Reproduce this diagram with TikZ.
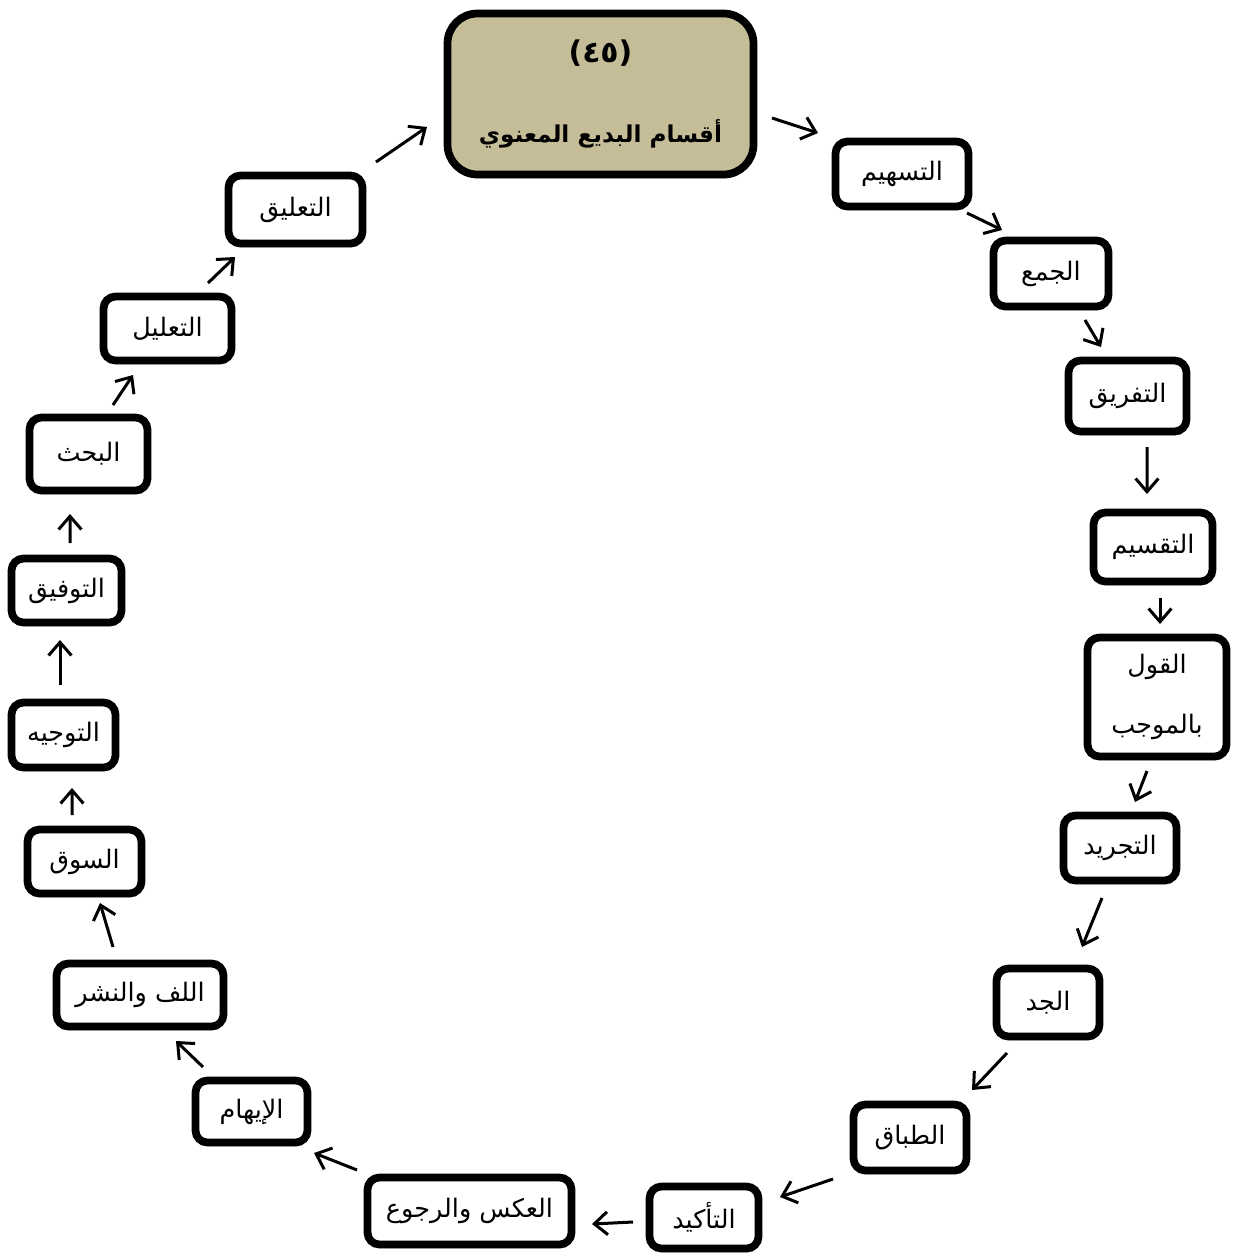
\documentclass[tikz,border=0pt]{standalone}
\usepackage{fontspec}
\newfontfamily\arabicfont[Script=Arabic]{DejaVu Sans}
\TeXXeTstate=1
\usetikzlibrary{arrows.meta,calc,shadows}
\definecolor{tan}{RGB}{196,189,151}
\tikzset{
  box/.style={draw=black, line width=0.155cm, rounded corners=0.24cm, fill=white,
    inner sep=0pt, align=center,
    drop shadow={shadow xshift=0.6pt, shadow yshift=-2.2pt, opacity=0.3, fill=black},
    font=\arabicfont\fontsize{14.5}{34}\selectfont},
  titlebox/.style={box, fill=tan, rounded corners=0.6cm,
    font=\arabicfont\bfseries\fontsize{13.2}{45}\selectfont},
  arr/.style={line width=0.06cm, -{Straight Barb[length=7.5pt,width=13pt]}}
}
\begin{document}
\begin{tikzpicture}[x=0.02cm,y=-0.02cm]
\useasboundingbox (0,0) rectangle (1239,1258);
% nodes: centre, size = outer size - line width
\node[titlebox, minimum width=306*0.02cm, minimum height=161*0.02cm] (title) at (600.5,94)
  {{\fontsize{17}{45}\selectfont (٤٥)}\\\beginR أقسام البديع المعنوي\endR};
\node[box, minimum width=133*0.02cm, minimum height=65*0.02cm] (tas) at (902,174) {\beginR التسهيم\endR};
\node[box, minimum width=115*0.02cm, minimum height=66*0.02cm] (jam) at (1051,273.5) {\beginR الجمع\endR};
\node[box, minimum width=118*0.02cm, minimum height=71*0.02cm] (tafr) at (1127.5,396) {\beginR التفريق\endR};
\node[box, minimum width=119*0.02cm, minimum height=69*0.02cm] (taqs) at (1153,547) {\beginR التقسيم\endR};
\node[box, minimum width=139*0.02cm, minimum height=119*0.02cm] (qawl) at (1157,697) {\beginR القول\endR\\\beginR بالموجب\endR};
\node[box, minimum width=113*0.02cm, minimum height=65*0.02cm] (tajr) at (1120,848) {\beginR التجريد\endR};
\node[box, minimum width=103*0.02cm, minimum height=68*0.02cm] (jidd) at (1048,1002.5) {\beginR الجد\endR};
\node[box, minimum width=113*0.02cm, minimum height=66*0.02cm] (tibaq) at (910,1137.5) {\beginR الطباق\endR};
\node[box, minimum width=109*0.02cm, minimum height=62*0.02cm] (takid) at (704,1217.5) {\beginR التأكيد\endR};
\node[box, minimum width=204*0.02cm, minimum height=67*0.02cm] (aks) at (469.5,1211) {\beginR العكس والرجوع\endR};
\node[box, minimum width=112*0.02cm, minimum height=62*0.02cm] (iham) at (251.5,1111.5) {\beginR الإيهام\endR};
\node[box, minimum width=167*0.02cm, minimum height=63*0.02cm] (laff) at (140,995) {\beginR اللف والنشر\endR};
\node[box, minimum width=114*0.02cm, minimum height=64*0.02cm] (sawq) at (84.5,861.5) {\beginR السوق\endR};
\node[box, minimum width=104*0.02cm, minimum height=65*0.02cm] (tawjih) at (63.5,735) {\beginR التوجيه\endR};
\node[box, minimum width=110*0.02cm, minimum height=64*0.02cm] (tawfiq) at (66.5,590.5) {\beginR التوفيق\endR};
\node[box, minimum width=118*0.02cm, minimum height=73*0.02cm] (bahth) at (88.5,454) {\beginR البحث\endR};
\node[box, minimum width=128*0.02cm, minimum height=64*0.02cm] (talil) at (167.5,328.5) {\beginR التعليل\endR};
\node[box, minimum width=134*0.02cm, minimum height=68*0.02cm] (taliq) at (295.5,209.5) {\beginR التعليق\endR};
% connectors
\draw[arr] ($(title)+(171.5,24)$) -- ($(tas)+(-84,-41)$);
\draw[arr] ($(tas)+(65,39)$) -- ($(jam)+(-49,-43.5)$);
\draw[arr] ($(jam)+(34,46.5)$) -- ($(tafr)+(-26.5,-49)$);
\draw[arr] ($(tafr)+(19.5,51)$) -- ($(taqs)+(-6,-53)$);
\draw[arr] ($(taqs)+(7,51)$) -- ($(qawl)+(3,-73)$);
\draw[arr] ($(qawl)+(-10,74)$) -- ($(tajr)+(15,-46)$);
\draw[arr] ($(tajr)+(-18,50)$) -- ($(jidd)+(34,-55.5)$);
\draw[arr] ($(jidd)+(-41,50.5)$) -- ($(tibaq)+(62,-47.5)$);
\draw[arr] ($(tibaq)+(-77,41.5)$) -- ($(takid)+(76,-20.5)$);
\draw[arr] ($(takid)+(-71,4.5)$) -- ($(aks)+(122.5,13)$);
\draw[arr] ($(aks)+(-112.5,-41)$) -- ($(iham)+(62.5,41.5)$);
\draw[arr] ($(iham)+(-48.5,-44.5)$) -- ($(laff)+(36,46)$);
\draw[arr] ($(laff)+(-27,-48)$) -- ($(sawq)+(15.5,41.5)$);
\draw[arr] ($(sawq)+(-12.5,-46.5)$) -- ($(tawjih)+(8.5,53)$);
\draw[arr] ($(tawjih)+(-3.5,-50)$) -- ($(tawfiq)+(-6.5,49.5)$);
\draw[arr] ($(tawfiq)+(3.5,-47.5)$) -- ($(bahth)+(-18.5,60)$);
\draw[arr] ($(bahth)+(24.5,-49)$) -- ($(talil)+(-34.5,46.5)$);
\draw[arr] ($(talil)+(40.5,-45.5)$) -- ($(taliq)+(-60.5,47.5)$);
\draw[arr] ($(taliq)+(80.5,-47.5)$) -- ($(title)+(-173.5,33)$);
\end{tikzpicture}
\end{document}
